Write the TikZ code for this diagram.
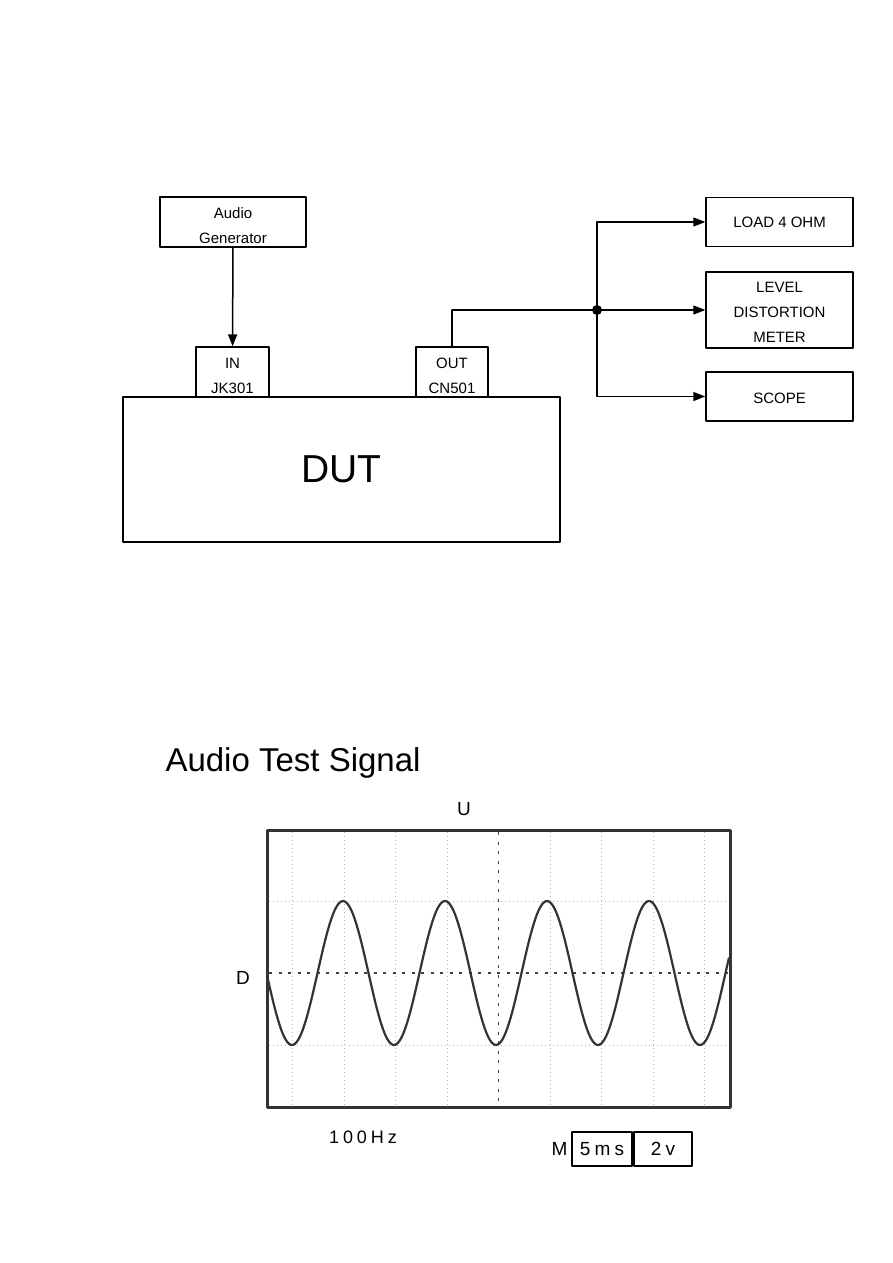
\documentclass[tikz,border=0pt]{standalone}
\usepackage{fontspec}
\setmainfont{Liberation Sans}
\newfontfamily\rongfont{Liberation Sans}[LetterSpace=22]
\usetikzlibrary{arrows.meta}
\newcommand\dem[1]{\rule{0pt}{#1pt}}
\begin{document}
\begin{tikzpicture}[x=1pt,y=-1pt,line join=round,
	khung/.style={draw,line width=1.4pt,inner sep=0pt,align=center,font=\fontsize{15}{25}\selectfont},
	muiten/.style={line width=1.5pt,-{Triangle[length=12pt,width=9pt]}},
	luoi/.style={black!30,line width=1pt,dash pattern=on 1pt off 3pt},
	truc/.style={black!75,line width=1.6pt,dash pattern=on 3pt off 6.5pt}]
	\useasboundingbox (0,0) rectangle (893,1263);
	%==Sơ đồ đo
	\node[khung,minimum width=146,minimum height=50] (gen) at (233,222) {\dem{19}Audio\\Generator};
	\node[khung,minimum width=73,minimum height=50] (in) at (232.5,372) {\dem{19}IN\\JK301};
	\node[khung,minimum width=72,minimum height=50] (out) at (452,372) {\dem{19}OUT\\CN501};
	\node[khung,minimum width=437,minimum height=145,font=\fontsize{39}{40}\selectfont] (dut) at (341.5,469.5) {DUT};
	\node[khung,minimum width=147,minimum height=49] (load) at (779.5,222) {LOAD 4 OHM};
	\node[khung,minimum width=147,minimum height=76] (level) at (779.5,310) {\dem{15}LEVEL\\DISTORTION\\METER};
	\node[khung,minimum width=147,minimum height=49] (scope) at (779.5,396.5) {\dem{14}SCOPE};
	\coordinate (J) at (597,310);
	\draw[muiten] (gen)--(in);
	\draw[line width=1.5pt] (out.north)|-(J);
	\draw[muiten] (J)--(level);
	\draw[muiten] (J)|-(load);
	\draw[muiten] (J)|-(scope);
	\fill (J) circle (5);
	%==Màn hình
	\def\cx{498.5}
	\def\cy{973}
	\def\bien{72}
	\def\goc{3.5294}% 360/chu ky 102
	\node[anchor=west,font=\fontsize{33}{35}\selectfont] (tieude) at (162,763) {Audio Test Signal};
	\foreach \k in {-4,...,-1,1,2,3,4}\draw[luoi] (\cx+51.5*\k,832)--(\cx+51.5*\k,1105);
	\foreach \t in {-1,1}\draw[luoi] (269,\cy+\bien*\t)--(728,\cy+\bien*\t);
	\draw[truc] (\cx,832)--(\cx,1105);
	\draw[truc] (269,\cy)--(728,\cy);
	\draw[line width=2.2pt,black!80,smooth] plot[domain=268:729,samples=240] (\x,{\cy-\bien*sin(\goc*(\x-317.5))});
	\draw[line width=3pt,black!80] (267,830) rectangle (730,1107);
	\node[font=\fontsize{19}{20}\selectfont] (U) at (464,809) {U};
	\node[font=\fontsize{19}{20}\selectfont] (D) at (243,978) {D};
	\node[font=\rongfont\fontsize{18}{20}\selectfont] (tanso) at (363,1137) {100Hz};
	\node[draw,line width=2pt,inner sep=0pt,minimum width=60,minimum height=34,font=\rongfont\fontsize{19}{20}\selectfont] (ms) at (602,1149) {5ms};
	\node[draw,line width=2pt,inner sep=0pt,minimum width=58,minimum height=34,font=\rongfont\fontsize{19}{20}\selectfont,anchor=west] (v) at (ms.east) {2v};
	\node[font=\fontsize{19}{20}\selectfont,anchor=east] (M) at (ms.west) {M};
\end{tikzpicture}
\end{document}
